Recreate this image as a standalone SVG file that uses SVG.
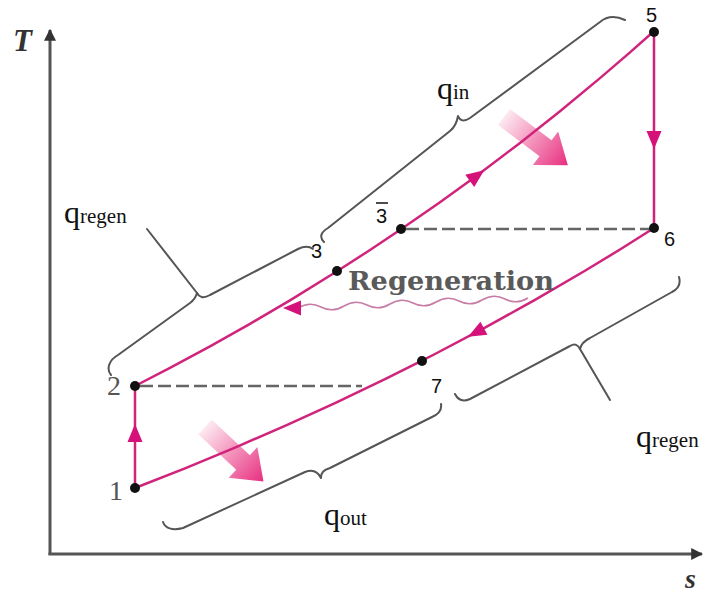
<svg xmlns="http://www.w3.org/2000/svg" width="704" height="594" viewBox="0 0 704 594">
  <style>
    .curve { fill: none; stroke: #d0247c; stroke-width: 2.5; stroke-linejoin: round; stroke-linecap: round; }
    .dash { fill: none; stroke: #666; stroke-width: 2.5; stroke-dasharray: 13 5; }
    .brace { fill: none; stroke: #555; stroke-width: 2; stroke-linejoin: round; stroke-linecap: round; }
    .axis { fill: none; stroke: #555; stroke-width: 3; }
    .ah { fill: #d4127a; }
    .dot { fill: #111; }
    .num { font-family: "Liberation Sans", Arial, sans-serif; font-size: 20px; fill: #111; }
    .snum { font-family: "Liberation Serif", "Times New Roman", serif; font-size: 28px; fill: #555; }
    .q { font-family: "Liberation Serif", "Times New Roman", serif; font-size: 32px; fill: #111; }
    .sub { font-family: "Liberation Serif", "Times New Roman", serif; font-size: 21px; fill: #111; }
    .axlbl { font-family: "Liberation Serif", "Times New Roman", serif; font-style: italic; font-weight: bold; fill: #333; }
  </style>
  <defs>
    <linearGradient id="fatgrad" gradientUnits="userSpaceOnUse" x1="0" y1="0" x2="80" y2="0">
      <stop offset="0" stop-color="#fde9f0"/>
      <stop offset="0.6" stop-color="#f07aac"/>
      <stop offset="1" stop-color="#e82f80"/>
    </linearGradient>
    <polygon id="fat" points="0,-10 52,-10 52,-21 80,0 52,21 52,10 0,10" fill="url(#fatgrad)"/>
    <polygon id="head" points="9,0 -9,-7.5 -9,7.5"/>
    <marker id="axhead" viewBox="0 0 10 10" refX="9" refY="5" markerWidth="4" markerHeight="4" orient="auto" markerUnits="strokeWidth">
      <path d="M0,0 L10,5 L0,10 z" fill="#333"/>
    </marker>
  </defs>
  <rect width="704" height="594" fill="#fff"/>

  <g id="axes">
    <line class="axis" x1="50" y1="555" x2="50" y2="30" marker-end="url(#axhead)"/>
    <line class="axis" x1="48.5" y1="554" x2="702" y2="554" marker-end="url(#axhead)"/>
    <text class="axlbl" x="13" y="51" font-size="31">T</text>
    <text class="axlbl" x="685" y="588" font-size="28">s</text>
  </g>

  <g id="heat-arrows">
    <use href="#fat" transform="translate(504,117) rotate(37)"/>
    <use href="#fat" transform="translate(205,427) rotate(43)"/>
  </g>

  <g id="connectors">
    <path id="p2-5" class="curve" d="M135,386 L170,367.9 L210,346.4 L250,323.8 L290,300.3 L337,271.3 L370,250 L401,229.3 L440,202.2 L477,175.5 L520,142.9 L560,111.2 L600,78.1 L630,52.4 L653,32"/>
    <path id="p6-1" class="curve" d="M654,228 L620,249.5 L585,270.7 L535,299.8 L485,327.6 L435,354 L422,360.7 L385,379.2 L335,403.1 L285,425.9 L235,447.6 L185,468.3 L135,488"/>
    <line id="p5-6" class="curve" x1="654" y1="32" x2="654" y2="228"/>
    <line id="p1-2" class="curve" x1="135" y1="488" x2="135" y2="386"/>
    <line id="d2" class="dash" x1="140" y1="386" x2="362" y2="386"/>
    <line id="d3b6" class="dash" x1="406" y1="229" x2="650" y2="229"/>
    <path id="regen-wave" fill="none" stroke="#c77ca6" stroke-width="1.6" d="M298,308 q11.5,-7 23,-1 t23,-1 t23,-1 t23,-1 t23,-1 t23,-1 t23,-1 t23,-1 t23,-1 t23,-1"/>
    <use href="#head" class="ah" transform="translate(477,175.5) rotate(-36.5)"/>
    <use href="#head" class="ah" transform="translate(476,332.5) rotate(151.8)"/>
    <use href="#head" class="ah" transform="translate(654,140) rotate(90)"/>
    <use href="#head" class="ah" transform="translate(135,433) rotate(-90)"/>
    <use href="#head" class="ah" transform="translate(292,308) rotate(180)"/>
  </g>

  <g id="braces">
    <path id="brace-regen-left" class="brace" d="M111,375 C106,369 109,360 118,355 L190,303 C194,300 196,297 197,293 C199,297 203,299 210,295 L298,249 C304,246 309,246 313,249"/>
    <line class="brace" x1="197" y1="293" x2="147" y2="229"/>
    <path id="brace-qin" class="brace" d="M324,242 C319,237 321,232 328,228 L450,131 C455,127 457,122 458,116 C460,121 464,122 470,118 L600,22 C606,17 614,15 625,20"/>
    <path id="brace-regen-right" class="brace" d="M455,394 C458,400 463,402 470,399 L570,346 C575,343 578,345 580,349 C581,344 584,341 590,338 L672,292 C678,289 681,284 679,277"/>
    <line class="brace" x1="580" y1="349" x2="610" y2="400"/>
    <path id="brace-qout" class="brace" d="M163,522 C165,528 172,531 183,528 L305,472 C313,469 318,472 321,478 C321,472 324,470 330,468 L432,417 C439,414 442,410 441,404"/>
  </g>

  <g id="node-1"><circle class="dot" cx="135" cy="488" r="5"/><text class="snum" x="109" y="500">1</text></g>
  <g id="node-2"><circle class="dot" cx="135" cy="386" r="5"/><text class="snum" x="107" y="395">2</text></g>
  <g id="node-3"><circle class="dot" cx="337" cy="271" r="5"/><text class="num" x="311" y="258">3</text></g>
  <g id="node-3bar"><circle class="dot" cx="401" cy="229" r="5"/><text class="num" x="376" y="223">3</text><line x1="376" y1="203" x2="388" y2="203" stroke="#111" stroke-width="1.5"/></g>
  <g id="node-5"><circle class="dot" cx="654" cy="32" r="5"/><text class="num" x="646" y="22">5</text></g>
  <g id="node-6"><circle class="dot" cx="654" cy="228" r="5"/><text class="num" x="664" y="246">6</text></g>
  <g id="node-7"><circle class="dot" cx="422" cy="361" r="5"/><text class="num" x="431" y="393">7</text></g>

  <g id="labels">
    <text x="348" y="290" font-family="'DejaVu Serif', 'Liberation Serif', serif" font-size="26" font-weight="bold" fill="#5a5a5a" textLength="206" lengthAdjust="spacingAndGlyphs">Regeneration</text>
    <text x="437" y="99"><tspan class="q">q</tspan><tspan class="sub">in</tspan></text>
    <text x="64" y="223"><tspan class="q">q</tspan><tspan class="sub">regen</tspan></text>
    <text x="636" y="447"><tspan class="q">q</tspan><tspan class="sub">regen</tspan></text>
    <text x="324" y="525"><tspan class="q">q</tspan><tspan class="sub">out</tspan></text>
  </g>
</svg>
